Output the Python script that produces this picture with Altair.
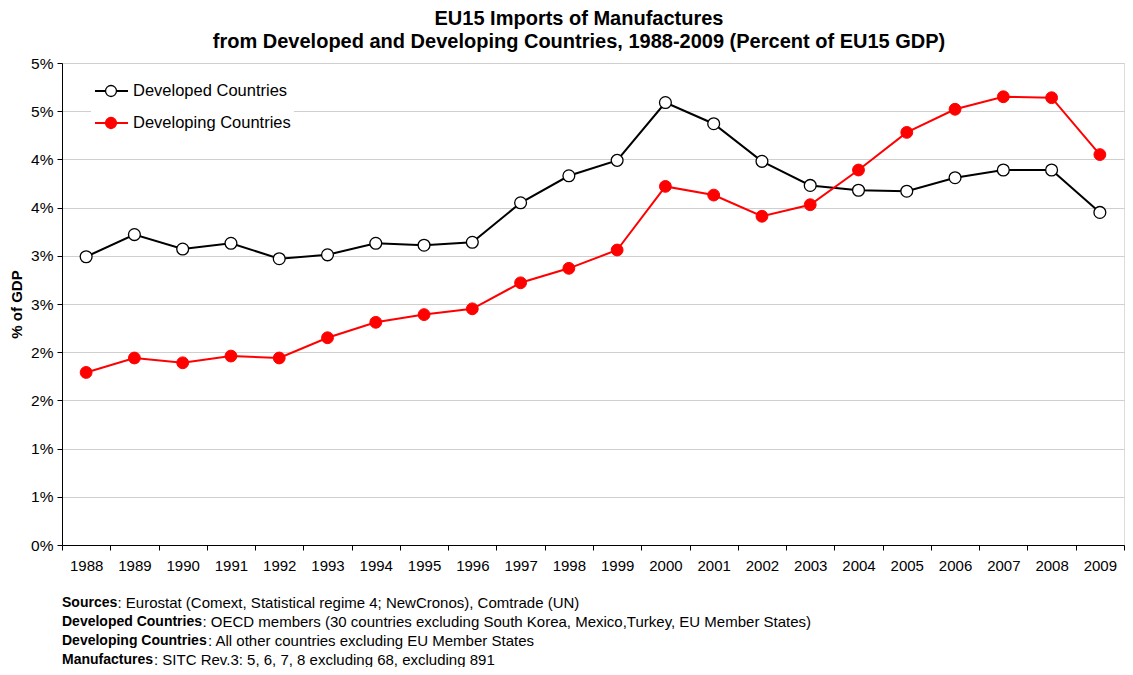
import altair as alt
import pandas as pd

years = list(range(1988, 2010))
developed = [2.99, 3.22, 3.07, 3.13, 2.97, 3.01, 3.13, 3.11, 3.14, 3.55, 3.83,
             3.99, 4.59, 4.37, 3.98, 3.73, 3.68, 3.67, 3.81, 3.89, 3.89, 3.45]
developing = [1.79, 1.94, 1.89, 1.96, 1.94, 2.15, 2.31, 2.39, 2.45, 2.72, 2.87,
              3.06, 3.72, 3.63, 3.41, 3.53, 3.89, 4.28, 4.52, 4.65, 4.64, 4.05]
series_names = ["Developed Countries", "Developing Countries"]
y_ticks = [0, 0.5, 1, 1.5, 2, 2.5, 3, 3.5, 4, 4.5, 5]
title_lines = ["EU15 Imports of Manufactures",
               "from Developed and Developing Countries, 1988-2009 (Percent of EU15 GDP)"]
notes_bold = ["Sources", "Developed Countries", "Developing Countries", "Manufactures"]
notes_rest = [": Eurostat (Comext, Statistical regime 4; NewCronos), Comtrade (UN)",
              ": OECD members (30 countries excluding South Korea, Mexico,Turkey, EU Member States)",
              ": All other countries excluding EU Member States",
              ": SITC Rev.3: 5, 6, 7, 8 excluding 68, excluding 891"]

FONT = "Liberation Sans"

df = pd.DataFrame({
    "year": years * 2,
    "value": developed + developing,
    "series": [series_names[0]] * len(years) + [series_names[1]] * len(years),
})
one = pd.DataFrame({"k": [0]})

x_enc = alt.X("year:O",
              scale=alt.Scale(type="band", paddingInner=0, paddingOuter=0),
              bandPosition=0.5,
              axis=alt.Axis(title=None, tickBand="extent", labelAngle=0, grid=False,
                            domainColor="black", tickColor="black", tickSize=5,
                            labelFontSize=15, labelFont=FONT, labelColor="black",
                            labelPadding=8))
y_enc = alt.Y("value:Q",
              scale=alt.Scale(domain=[0, 5], nice=False, zero=True),
              axis=alt.Axis(title="% of GDP", values=y_ticks,
                            labelExpr="round(datum.value) + '%'",
                            grid=True, gridColor="#cfcfcf", gridWidth=1,
                            domainColor="black", tickColor="black", tickSize=5,
                            labelFontSize=15.5, labelFont=FONT, labelColor="black",
                            labelPadding=4, titleFont=FONT, titleFontSize=15,
                            titleFontWeight="bold", titleColor="black",
                            titlePadding=6))

base = alt.Chart(df).encode(x=x_enc, y=y_enc)

dev_line = base.transform_filter(alt.datum.series == series_names[0]).mark_line(
    color="black", strokeWidth=2)
dev_pts = base.transform_filter(alt.datum.series == series_names[0]).mark_point(
    shape="circle", filled=True, fill="white", stroke="black", strokeWidth=1.3,
    size=140, opacity=1)
devg_line = base.transform_filter(alt.datum.series == series_names[1]).mark_line(
    color="#ff0000", strokeWidth=2)
devg_pts = base.transform_filter(alt.datum.series == series_names[1]).mark_point(
    shape="circle", filled=True, fill="#ff0000", stroke="#ff0000", strokeWidth=1,
    size=140, opacity=1)

# legend (inside plot, top-left)
leg_bg = alt.Chart(one).mark_rect(fill="white").encode(
    x=alt.value(29), x2=alt.value(232), y=alt.value(10), y2=alt.value(77))
leg_layers = [leg_bg]
for i, (name, col, fill) in enumerate([(series_names[0], "black", "white"),
                                       (series_names[1], "#ff0000", "#ff0000")]):
    yy = 28 + 32 * i
    leg_layers.append(alt.Chart(one).mark_rule(color=col, strokeWidth=2).encode(
        x=alt.value(33), x2=alt.value(66), y=alt.value(yy)))
    leg_layers.append(alt.Chart(one).mark_point(
        shape="circle", filled=True, fill=fill, stroke=col, strokeWidth=1.3,
        size=120, opacity=1).encode(x=alt.value(49), y=alt.value(yy)))
    leg_layers.append(alt.Chart(one).mark_text(
        align="left", baseline="middle", font=FONT, fontSize=16.5, color="black").encode(
        x=alt.value(71), y=alt.value(yy), text=alt.value(name)))

# footnotes
note_layers = []
rest_x = [55.5, 140.5, 146, 92]
for i in range(4):
    yy = 540 + 19 * i
    note_layers.append(alt.Chart(one).mark_text(
        align="left", baseline="middle", font=FONT, fontSize=14, fontWeight="bold",
        color="black").encode(x=alt.value(0), y=alt.value(yy), text=alt.value(notes_bold[i])))
    note_layers.append(alt.Chart(one).mark_text(
        align="left", baseline="middle", font=FONT, fontSize=15, color="black").encode(
        x=alt.value(rest_x[i]), y=alt.value(yy), text=alt.value(notes_rest[i])))

chart = alt.layer(dev_line, dev_pts, devg_line, devg_pts, *leg_layers, *note_layers).properties(
    width=1062, height=482,
    autosize=alt.AutoSizeParams(type="none"),
    padding={"left": 54, "top": 55, "right": 1, "bottom": 122},
    title=alt.TitleParams(text=title_lines, font=FONT, fontSize=20, fontWeight="bold",
                          color="black", anchor="middle", dx=-14, offset=4,
                          lineHeight=23),
).configure_view(stroke="#8c8c8c", strokeWidth=1).configure(background="white")

chart.save("out.html", embed_options={"renderer": "svg", "actions": False})
